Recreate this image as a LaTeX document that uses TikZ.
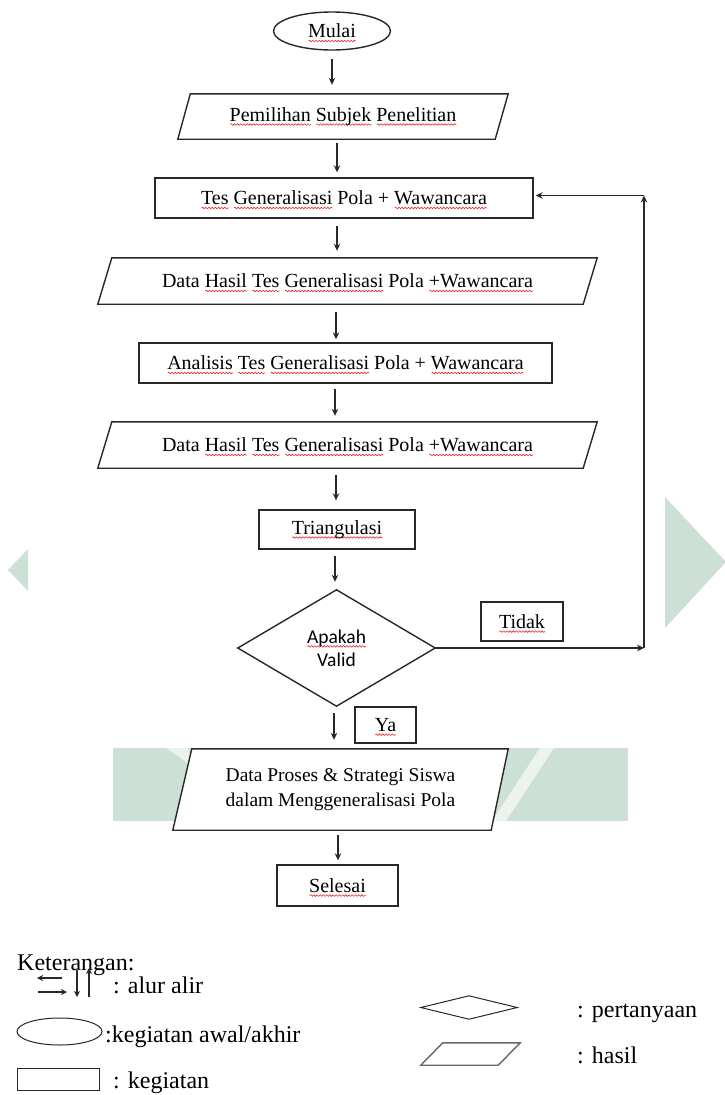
\documentclass[tikz,border=0pt]{standalone}
\usepackage{fontspec}
\setmainfont{Liberation Serif}
\newfontfamily\calib{Carlito}
\usetikzlibrary{arrows.meta,shapes.geometric,decorations.pathmorphing}
\definecolor{wm}{RGB}{205,224,213}
\definecolor{wmlight}{RGB}{236,243,239}
\definecolor{ln}{RGB}{40,40,40}
\definecolor{sqred}{RGB}{235,40,40}
\newlength\sqw
\newcommand\sq[1]{\setbox0\hbox{#1}\sqw=\wd0\relax\leavevmode\rlap{\tikz[overlay,baseline=0pt,x=1pt,y=1pt]{\draw[sqred, line width=0.6pt, decorate, decoration={snake, amplitude=0.8pt, segment length=3.2pt}] (0.5pt,-3.2pt) -- (\sqw,-3.2pt);}}\box0\relax}
\newcommand\fsA{\fontsize{20}{24}\selectfont}
\newcommand\fsB{\fontsize{19.5}{25}\selectfont}
\newcommand\fsL{\fontsize{24}{28}\selectfont}
\newcommand\fsD{\fontsize{19.5}{23}\selectfont}
\pgfdeclarelayer{wmark}
\pgfdeclarelayer{shp}
\pgfsetlayers{wmark,shp,main}
\tikzset{
  box/.style={draw=ln, line width=1.4pt, fill=white, inner sep=0pt, font=\fsA},
  para/.style={inner sep=0pt, font=\fsA},
  pline/.style={draw=ln, line width=1.4pt, fill=white},
  arr/.style={draw=ln, line width=1.2pt, -{Stealth[length=7pt,width=6.5pt]}},
  arrS/.style={draw=ln, line width=1.2pt, -{Stealth[length=6pt,width=6pt]}},
  lg/.style={anchor=base west, inner sep=0pt, font=\fsL},
  lgshape/.style={draw=ln, line width=1pt, fill=white, inner sep=0pt},
}
\newcommand\pgram[3]{%
  \begin{pgfonlayer}{shp}
    \path[pline] ([xshift=#2]#1.north west) -- (#1.north east) -- ([xshift=-#3]#1.south east) -- (#1.south west) -- cycle;
  \end{pgfonlayer}}
\begin{document}
\begin{tikzpicture}[x=1pt,y=-1pt]
\useasboundingbox (0,0) rectangle (724,1095);
% background and watermark
\begin{pgfonlayer}{wmark}
  \fill[white] (0,0) rectangle (724,1095);
  \fill[wm] (8,570) -- (28,549) -- (28,591) -- cycle;
  \fill[wm] (665,497) -- (665,628) -- (726,562) -- cycle;
  \fill[wm] (113,748) rectangle (628,821);
  \fill[wmlight] (166,748) -- (188,748) -- (192,766) -- cycle;
  \fill[wmlight] (540,748) -- (554,748) -- (506,821) -- (492,821) -- cycle;
\end{pgfonlayer}

% flowchart nodes
\node[box, ellipse, minimum width=117pt, minimum height=38pt] (mulai) at (332,31) {\sq{Mulai}};

\node[para, minimum width=330pt, minimum height=45pt] (p1) at (343,116.5) {\sq{Pemilihan} \sq{Subjek} \sq{Penelitian}};
\pgram{p1}{12.5pt}{13pt}

\node[box, minimum width=378pt, minimum height=40pt] (r1) at (344,198) {\sq{Tes} \sq{Generalisasi} Pola + \sq{Wawancara}};

\node[para, minimum width=499pt, minimum height=46pt] (p2) at (347.5,281) {Data \sq{Hasil} \sq{Tes} \sq{Generalisasi} Pola \sq{+Wawancara}};
\pgram{p2}{14pt}{14pt}

\node[box, minimum width=413pt, minimum height=40pt] (r2) at (345.5,363) {\sq{Analisis} \sq{Tes} \sq{Generalisasi} Pola + \sq{Wawancara}};

\node[para, minimum width=499pt, minimum height=46pt] (p3) at (347.5,445) {Data \sq{Hasil} \sq{Tes} \sq{Generalisasi} Pola \sq{+Wawancara}};
\pgram{p3}{14pt}{14pt}

\node[box, minimum width=156pt, minimum height=39pt] (tri) at (337,529.5) {\sq{Triangulasi}};

\node[inner sep=0pt, minimum width=197pt, minimum height=116pt, align=center, font=\calib\fsD] (dia) at (336.5,648) {\sq{Apakah}\\Valid};
\begin{pgfonlayer}{shp}
  \path[pline] (dia.north) -- (dia.east) -- (dia.south) -- (dia.west) -- cycle;
\end{pgfonlayer}

\node[box, minimum width=82pt, minimum height=39pt] (tidak) at (522,621.5) {\sq{Tidak}};
\node[box, minimum width=61pt, minimum height=36pt] (ya) at (385.5,725) {\sq{Ya}};

\node[para, minimum width=335pt, minimum height=81pt, align=center, font=\fsB] (p4) at (340.5,789.5) {Data Proses \& Strategi Siswa\\dalam Menggeneralisasi Pola};
\pgram{p4}{19pt}{17pt}

\node[box, minimum width=121pt, minimum height=41pt] (sel) at (337.5,885.5) {\sq{Selesai}};

% connectors
\draw[arr, shorten <=8.5pt, shorten >=9pt] (mulai.south) -- (mulai.south |- p1.north);
\draw[arr, shorten <=4pt, shorten >=5pt] ([xshift=-6pt]p1.south) -- ([xshift=-6pt]p1.south |- r1.north);
\draw[arr, shorten <=7pt, shorten >=7pt] ([xshift=-7pt]r1.south) -- ([xshift=-7pt]r1.south |- p2.north);
\draw[arr, shorten <=8pt, shorten >=3pt] ([xshift=-11.5pt]p2.south) -- ([xshift=-11.5pt]p2.south |- r2.north);
\draw[arr, shorten <=5pt, shorten >=6pt] ([xshift=-10.5pt]r2.south) -- ([xshift=-10.5pt]r2.south |- p3.north);
\draw[arr, shorten <=7pt, shorten >=9pt] ([xshift=-11.5pt]p3.south) -- ([xshift=-11.5pt]p3.south |- tri.north);
\draw[arr, shorten <=6pt, shorten >=8pt] ([xshift=-2pt]tri.south) -- ([xshift=-2pt]tri.south |- dia.north);
\draw[arr, shorten <=7pt, shorten >=9pt] ([xshift=-2.5pt]dia.south) -- ([xshift=-2.5pt]dia.south |- p4.north);
\draw[arr, shorten <=5pt, shorten >=4pt] ([xshift=-2.5pt]p4.south) -- ([xshift=-2.5pt]p4.south |- sel.north);

\coordinate (cb) at (644,648);
\coordinate (ct) at (644,195.5);
\draw[arr] (dia.east) -- (cb);
\draw[arr] (cb) -- (ct);
\draw[arr, shorten >=2pt] (ct) -- (r1.east |- ct);

% legend
\node[lg] (ket) at (17,970) {Keterangan:};
\coordinate (la1) at (62,978); \coordinate (la2) at (37,978);
\coordinate (lb1) at (38,992); \coordinate (lb2) at (67,992);
\coordinate (lc1) at (77,970); \coordinate (lc2) at (77,997);
\coordinate (ld1) at (89,997); \coordinate (ld2) at (89,968);
\draw[arrS] (la1) -- (la2);
\draw[arrS] (lb1) -- (lb2);
\draw[arrS] (lc1) -- (lc2);
\draw[arrS] (ld1) -- (ld2);
\node[lg] (t1) at (113,993) {: alur alir};

\node[lgshape, ellipse, minimum width=85pt, minimum height=27pt] (le) at (59.5,1031.5) {};
\node[lg] (t2) at (105,1042) {:kegiatan awal/akhir};

\node[lgshape, minimum width=82pt, minimum height=22pt] (lr) at (58,1079) {};
\node[lg] (t3) at (113,1088) {: kegiatan};

\node[inner sep=0pt, minimum width=96pt, minimum height=23pt] (ld) at (469,1007.5) {};
\draw[lgshape] (ld.north) -- (ld.east) -- (ld.south) -- (ld.west) -- cycle;
\node[lg] (t4) at (577,1017) {: pertanyaan};

\node[inner sep=0pt, minimum width=99pt, minimum height=22pt] (lp) at (470.5,1054) {};
\draw[lgshape, line width=1.4pt, draw=ln!70] ([xshift=22pt]lp.north west) -- (lp.north east) -- ([xshift=-22pt]lp.south east) -- (lp.south west) -- cycle;
\node[lg] (t5) at (577,1063) {: hasil};
\end{tikzpicture}
\end{document}
